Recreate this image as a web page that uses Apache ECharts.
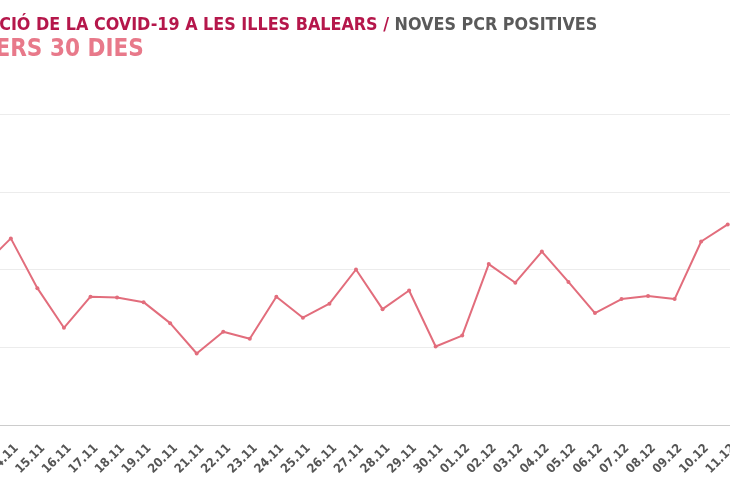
<!DOCTYPE html>
<html>
<head>
<meta charset="utf-8">
<script src="https://cdn.jsdelivr.net/npm/echarts@6/dist/echarts.min.js"></script>
<style>
  html, body { margin: 0; padding: 0; width: 730px; height: 500px; overflow: hidden; background: #fff; }
  #chart { position: absolute; left: -80px; top: 0; width: 900px; height: 500px; }
</style>
</head>
<body>
<div id="chart"></div>
<script>
var days = ['13.11', '14.11', '15.11', '16.11', '17.11', '18.11', '19.11', '20.11', '21.11', '22.11',
  '23.11', '24.11', '25.11', '26.11', '27.11', '28.11', '29.11', '30.11', '01.12', '02.12',
  '03.12', '04.12', '05.12', '06.12', '07.12', '08.12', '09.12', '10.12', '11.12'];
var newPcr = [206, 240, 176, 125, 165, 164, 158, 131, 92, 120,
  111, 165, 138, 156, 200, 149, 173, 101, 115, 207,
  183, 223, 184, 144, 162, 166, 162, 236, 258];

var font = '"DejaVu Sans Condensed", "DejaVu Sans", sans-serif';

var myChart = echarts.init(document.getElementById('chart'));
var option = {
  backgroundColor: '#fff',
  animation: false,
  title: [{
    text: '{a|EVOLUCIÓ DE LA COVID-19 A LES ILLES BALEARS / }{b|NOVES PCR POSITIVES}',
    left: 15,
    top: 11,
    textStyle: {
      rich: {
        a: { color: '#b5174b', fontSize: 17.8, fontWeight: 'bold', fontFamily: font },
        b: { color: '#5a5a5a', fontSize: 17.8, fontWeight: 'bold', fontFamily: font }
      }
    }
  }, {
    text: 'ELS DARRERS 30 DIES',
    left: -49,
    top: 33,
    textStyle: {
      color: '#e8798a',
      fontSize: 24,
      fontWeight: 'bold',
      fontFamily: font
    }
  }],
  grid: {
    left: 51,
    right: 79,
    top: 114,
    bottom: 75
  },
  xAxis: {
    type: 'category',
    data: days,
    boundaryGap: true,
    axisLine: { lineStyle: { color: '#cccccc' } },
    axisTick: { show: false },
    axisLabel: {
      interval: 0,
      rotate: 45,
      color: '#555',
      fontSize: 12.5,
      fontWeight: 'bold',
      fontFamily: font,
      margin: 27,
      padding: [0, -8, 0, 0]
    }
  },
  yAxis: {
    type: 'value',
    min: 0,
    max: 400,
    interval: 100,
    axisLine: { show: false },
    axisTick: { show: false },
    axisLabel: { show: false },
    splitLine: { lineStyle: { color: '#ececec' } }
  },
  series: [{
    name: 'Noves PCR positives',
    type: 'line',
    data: newPcr,
    symbol: 'circle',
    symbolSize: 4,
    lineStyle: { color: '#e26d7c', width: 2 },
    itemStyle: { color: '#e26d7c' }
  }]
};
myChart.setOption(option);
</script>
</body>
</html>
